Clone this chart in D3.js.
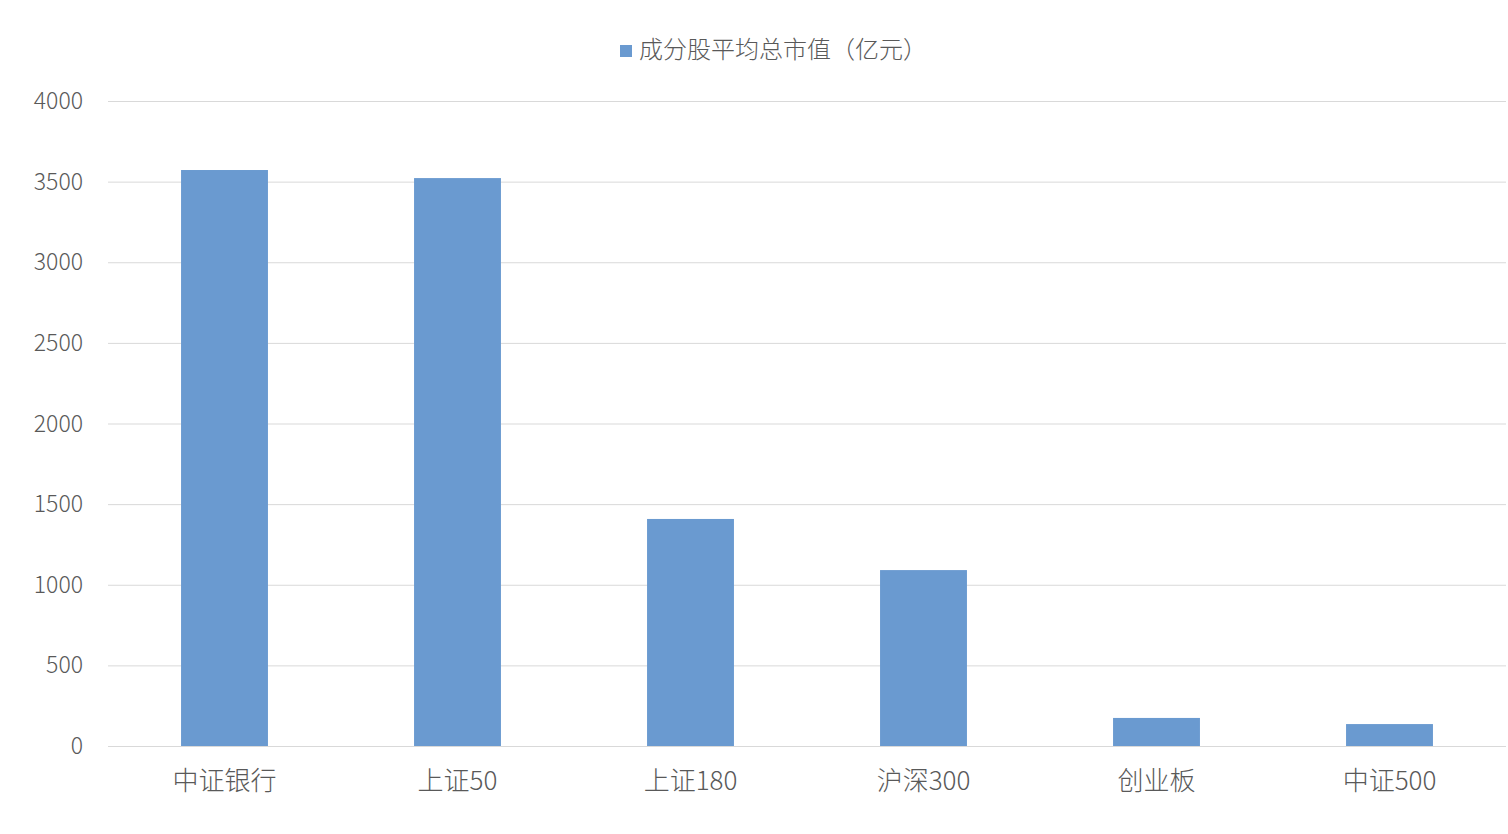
<!DOCTYPE html>
<html>
<head>
<meta charset="utf-8">
<script src="https://cdn.jsdelivr.net/npm/d3@7"></script>
<style>
  body { margin: 0; background: #fff; }
  text { font-family: "Noto Sans CJK SC", "DejaVu Sans", sans-serif; fill: #595959; font-weight: 300; }
</style>
</head>
<body>
<div class="container"></div>
<script>
const categories = ['中证银行', '上证50', '上证180', '沪深300', '创业板', '中证500'];
const values = [3572, 3522, 1408, 1091, 174, 136];
const yTicks = [0, 500, 1000, 1500, 2000, 2500, 3000, 3500, 4000];
const seriesName = '成分股平均总市值（亿元）';

const w = 1508;
const h = 834;
const margin = { top: 101, right: 2, bottom: 88, left: 108 };
const color = '#6a9ad0';

const svg = d3.select('.container')
    .append('svg')
    .attr('width', w)
    .attr('height', h);

const x = d3.scaleBand()
    .domain(categories)
    .range([margin.left, w - margin.right])
    .paddingInner(0.627)
    .paddingOuter(0.3135);

const y = d3.scaleLinear()
    .domain([0, 4000])
    .range([h - margin.bottom, margin.top]);

// gridlines
svg.append('g')
    .selectAll('line')
    .data(yTicks)
    .join('line')
    .attr('x1', margin.left)
    .attr('x2', w - margin.right)
    .attr('y1', d => y(d) + 0.5)
    .attr('y2', d => y(d) + 0.5)
    .attr('stroke', '#d9d9d9')
    .attr('stroke-width', 1);

// y labels
svg.append('g')
    .selectAll('text')
    .data(yTicks)
    .join('text')
    .attr('x', 83)
    .attr('y', d => y(d))
    .attr('dy', '0.35em')
    .attr('text-anchor', 'end')
    .style('font-size', '23px')
    .text(d => d);

// bars
svg.append('g')
    .selectAll('rect')
    .data(values)
    .join('rect')
    .attr('x', (d, i) => x(categories[i]))
    .attr('width', x.bandwidth())
    .attr('y', d => y(d))
    .attr('height', d => y(0) - y(d))
    .attr('fill', color);

// x labels
svg.append('g')
    .selectAll('text')
    .data(categories)
    .join('text')
    .attr('x', d => x(d) + x.bandwidth() / 2)
    .attr('y', 781)
    .attr('dy', '0.35em')
    .attr('text-anchor', 'middle')
    .style('font-size', '26px')
    .text(d => d);

// legend
const legend = svg.append('g');
legend.append('rect')
    .attr('x', 620)
    .attr('y', 45)
    .attr('width', 12)
    .attr('height', 12)
    .attr('fill', color);
legend.append('text')
    .attr('x', 639)
    .attr('y', 50)
    .attr('dy', '0.35em')
    .style('font-size', '24px')
    .text(seriesName);
</script>
</body>
</html>
